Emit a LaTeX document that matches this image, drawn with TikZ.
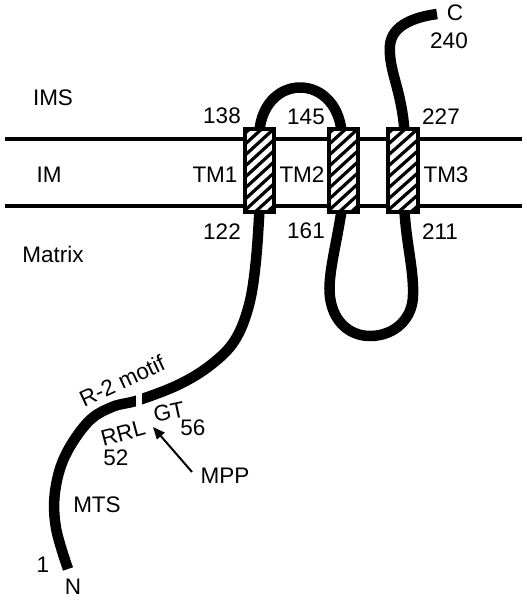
\documentclass[tikz,border=0pt]{standalone}
\usepackage{fontspec}
\setmainfont{Liberation Sans}
\usetikzlibrary{arrows.meta}
\tikzset{
  lbl/.style={inner sep=0pt, font=\fontsize{22.5}{27}\selectfont},
  chain/.style={line width=10.5pt, line cap=butt},
  membrane/.style={line width=4pt},
  mpparrow/.style={line width=2pt, -{Triangle[length=12pt,width=10pt]}},
}
\newcommand{\tmbox}[3]{% x0, x1, name
  \begin{scope}
    \clip (#1,129) rectangle (#2,212);
    \fill[white] (#1,129) rectangle (#2,212);
    \foreach \k in {125,136,...,250} {
      \draw[line width=3.2pt] (#1-3,\k) -- (#2+3,\k-32);
    }
  \end{scope}
  \draw[line width=3.6pt] (#1,129) rectangle (#2,212);
  \coordinate (#3) at ({(#1+#2)/2},170);
}
\begin{document}
\begin{tikzpicture}[x=1pt,y=-1pt]
\useasboundingbox (0,0) rectangle (527,600);
% membrane
\draw[membrane] (5,139) -- (522,139);
\draw[membrane] (5,206) -- (522,206);
% chain
\draw[chain] plot[smooth, tension=0.6] coordinates {(68,569) (56,528) (55,492) (65,456) (88,422) (112,407) (139,400) (180,384) (212,364) (235,340) (249,305) (256,260) (260,200)};
\fill[white] (135.5,388) rectangle (142,414);
\draw[chain] (259,140) .. controls (258,70) and (342,70) .. (342,140);
\draw[chain] (343,200) .. controls (338,240) and (327,275) .. (330,297)
  .. controls (333,322) and (350,336) .. (370,336)
  .. controls (395,336) and (413,318) .. (413,295)
  .. controls (414,268) and (405,240) .. (404,200);
\draw[chain] (405,140) .. controls (403,90) and (388,72) .. (390,45)
  .. controls (392,25) and (415,17) .. (437,14);
% TM boxes
\tmbox{245}{274}{tmA}
\tmbox{329}{358}{tmB}
\tmbox{388}{418}{tmC}
% labels
\node[lbl] (ims) at (53,98) {IMS};
\node[lbl] (im) at (49,175) {IM};
\node[lbl] (matrix) at (53,254) {Matrix};
\node[lbl] (n138) at (222,116) {138};
\node[lbl] (tm1) at (215,175) {TM1};
\node[lbl] (n122) at (222,232) {122};
\node[lbl] (n145) at (306,117) {145};
\node[lbl] (tm2) at (302,175) {TM2};
\node[lbl] (n161) at (306,231) {161};
\node[lbl] (n227) at (441,117) {227};
\node[lbl] (tm3) at (446,175) {TM3};
\node[lbl] (n211) at (440,232) {211};
\node[lbl] (cterm) at (455,13) {C};
\node[lbl] (n240) at (449,41) {240};
\node[lbl, rotate=25] (r2) at (122,381) {R-2 motif};
\node[lbl, rotate=15] (rrl) at (123,433) {RRL};
\node[lbl, rotate=12] (gt) at (169,412) {GT};
\node[lbl] (n52) at (116,458) {52};
\node[lbl] (n56) at (193,428) {56};
\node[lbl] (mpp) at (225,476) {MPP};
\node[lbl] (mts) at (97,505) {MTS};
\node[lbl] (n1) at (43,565) {1};
\node[lbl] (nterm) at (73,587) {N};
% arrow
\coordinate (mppfrom) at (192,472);
\coordinate (tip) at (153,427);
\draw[mpparrow] (mppfrom) -- (tip);
\end{tikzpicture}
\end{document}
